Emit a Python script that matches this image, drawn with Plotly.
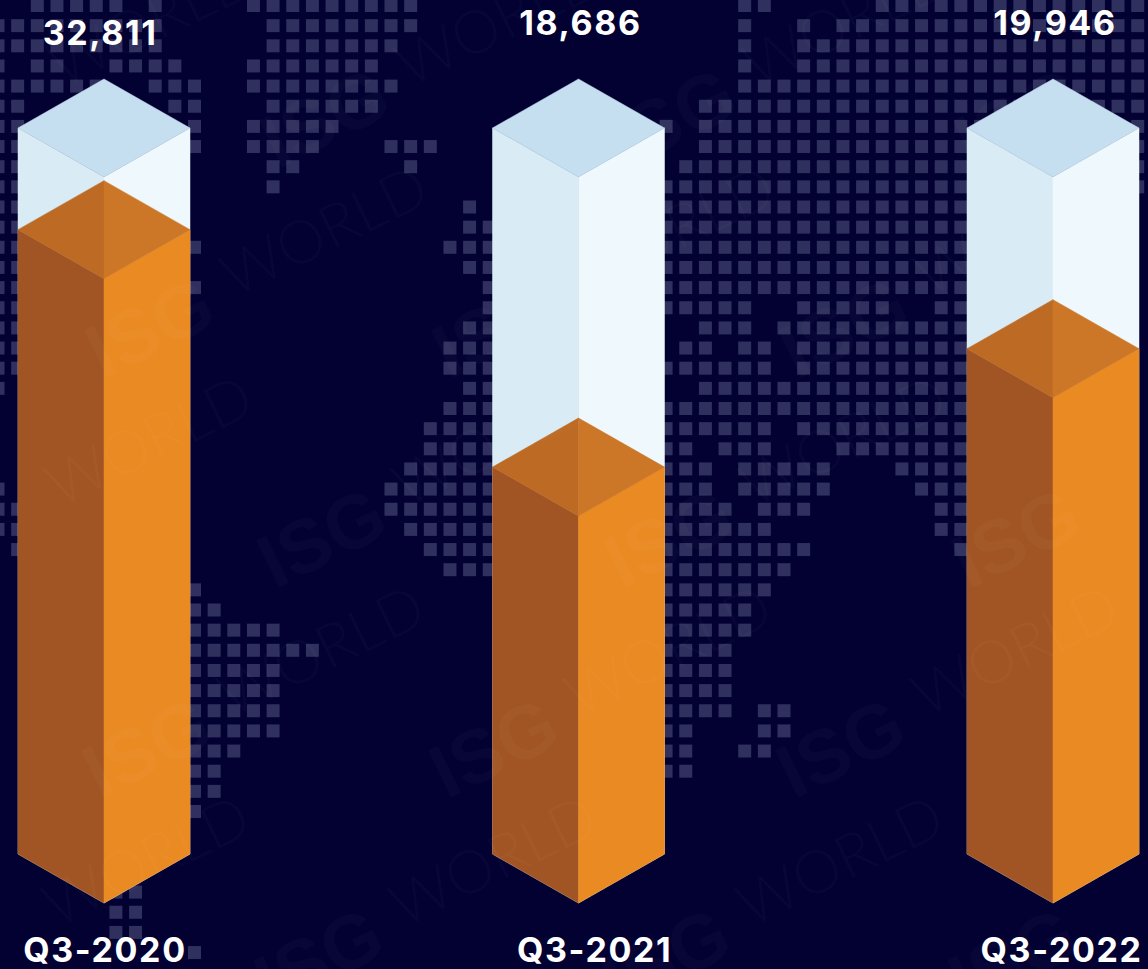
import plotly.graph_objects as go

# ---------- data ----------
quarters = ["Q3-2020", "Q3-2021", "Q3-2022"]
totals = [32811, 18686, 19946]
fill_pct = [86.0, 53.3, 69.6]

# world-map dot grid: row -> occupied grid columns
map_rows = {
    0: "2-6 8 13-21 38-39 45-58",
    1: "0-8 14-21 38 41 43-58",
    2: "0-8 14-20 38 41-58",
    3: "0 2-3 6-9 13-19 38 41-58",
    4: "0-5 8-10 13-20 38-58",
    5: "0-1 9-10 14-19 36-58",
    6: "0-1 10 13-17 34 36-58",
    7: "0-1 10 13-16 20-22 36-58",
    8: "0-1 14-15 21 35-58",
    9: "0-1 14 34-58",
    10: "0-1 24 34-49",
    11: "0-1 24-25 34-49",
    12: "0-1 10 23-25 34-49",
    13: "0-1 24-25 34-49",
    14: "0-1 10 25 34-49",
    15: "0-1 25 34-38 41-45 48-49",
    16: "0-1 24-25 36-38 40-49",
    17: "0-1 23-25 35-36 38-39 41-49",
    18: "0-1 23-25 34-39 41-49",
    19: "0 24-25 36-49",
    20: "23-25 34-49",
    21: "22-25 34-39 41-49",
    22: "22-25 34-35 37-39 43-49",
    23: "21-25 34-36 38-42 46-49",
    24: "0 20-25 34-36 38-42 47-49",
    25: "0-1 20-25 34-37 39-41 48-49",
    26: "0-1 21-25 34-39 48-49",
    27: "1 22-25 34-41 49",
    28: "23-25 34-40",
    29: "10 34-39",
    30: "10-11 34-38",
    31: "10-14 34-38",
    32: "10-16 34-37",
    33: "10-14 34-37",
    34: "10-14 34-37",
    35: "10-14 34-37 39-40",
    36: "10-14 34-35 39-40",
    37: "10-12 34-35 38-39",
    38: "10-11 34-35",
    39: "10-11",
    40: "10",
    44: "6-7",
    45: "6-7",
    46: "6-7",
    47: "10",
}

# ---------- styles and layout constants ----------
W, H = 1148, 969
BG = "#020132"
DOT = "#30305e"
WHITE_L, WHITE_R, WHITE_TOP = "#d9ecf6", "#eff9fd", "#c5dff0"
OR_L, OR_R, OR_TL, OR_TR = "#a25524", "#ea8a22", "#bd6a24", "#cc7727"

PX_PER_PCT = 7.26          # plot pixels for one percent of column height
PX_PER_COL = 474.5         # pixels between columns
BASE_PX, FIRST_COL_PX = 903, 104
HALF_W = 86 / PX_PER_COL   # half width of a column, in column units
RISE = 49 / PX_PER_PCT     # isometric rise of an edge, in percent units


def parse(spec):
    cols = []
    for part in spec.split():
        a, _, b = part.partition("-")
        cols.extend(range(int(a), int(b or a) + 1))
    return cols


dot_x, dot_y = [], []
for row, spec in map_rows.items():
    for col in parse(spec):
        dot_x.append(19.65 * col - 2)
        dot_y.append(5.5 + 20.15 * row)

fig = go.Figure()
fig.add_trace(go.Scatter(
    x=dot_x, y=dot_y, mode="markers", xaxis="x", yaxis="y", hoverinfo="skip",
    marker=dict(symbol="square", size=13, color=DOT, line=dict(width=0)),
))


def poly(xs, ys, color):
    fig.add_trace(go.Scatter(
        x=xs + xs[:1], y=ys + ys[:1], mode="lines", fill="toself", fillcolor=color,
        line=dict(width=0.5, color=color), xaxis="x2", yaxis="y2", hoverinfo="skip",
    ))


def column_part(c, top, left, right, cap_l, cap_r):
    w, r = HALF_W, RISE
    poly([c - w, c, c, c - w], [r, 0, top, top + r], left)
    poly([c, c + w, c + w, c], [0, r, top + r, top], right)
    if cap_l == cap_r:
        poly([c - w, c, c + w, c], [top + r, top + 2 * r, top + r, top], cap_l)
    else:
        poly([c - w, c, c], [top + r, top + 2 * r, top], cap_l)
        poly([c, c + w, c], [top + 2 * r, top + r, top], cap_r)


for i, pct in enumerate(fill_pct):
    column_part(i, 100, WHITE_L, WHITE_R, WHITE_TOP, WHITE_TOP)
    column_part(i, pct, OR_L, OR_R, OR_TL, OR_TR)

# text labels
total_shift = [-0.008, 0.004, 0.004]
total_y = [119.4, 120.8, 120.8]
cat_shift = [0.002, 0.034, 0.018]
cat_y = -7.0
font = dict(family="Inter, Lato, sans-serif", size=34, color="#ffffff", weight=700)
fig.add_trace(go.Scatter(
    x=[i + s for i, s in enumerate(total_shift)], y=total_y,
    text=[f"{v:,}" for v in totals], mode="text", textposition="middle center",
    textfont=font, xaxis="x2", yaxis="y2", hoverinfo="skip",
))
fig.add_trace(go.Scatter(
    x=[i + s for i, s in enumerate(cat_shift)], y=[cat_y] * 3,
    text=quarters, mode="text", textposition="middle center",
    textfont=font, xaxis="x2", yaxis="y2", hoverinfo="skip",
))

# faint repeating watermark
annotations = []
mark = "rgba(255,255,255,0.025)"
for m in range(-1, 4):
    for n in range(-2, 4):
        px = 149 + 172 * m + 347 * n
        py = 327 + 210 * m
        if -100 < px < W + 60 and -40 < py < H + 40:
            annotations.append(dict(
                x=px, y=py, xref="x", yref="y", text="<b>ISG</b>", showarrow=False, textangle=-26,
                font=dict(family="Liberation Sans", size=76, color=mark),
            ))
        if 0 < px + 174 < W and 0 < py - 98 < H:
            annotations.append(dict(
                x=px + 174, y=py - 98, xref="x", yref="y", text="WORLD", showarrow=False, textangle=-26,
                font=dict(family="Lato", size=60, color=mark, weight=300),
            ))

hidden = dict(visible=False, showgrid=False, zeroline=False, fixedrange=True)
fig.update_layout(
    width=W, height=H, margin=dict(l=0, r=0, t=0, b=0),
    paper_bgcolor=BG, plot_bgcolor=BG, showlegend=False,
    xaxis=dict(range=[0, W], domain=[0, 1], **hidden),
    yaxis=dict(range=[H, 0], domain=[0, 1], **hidden),
    xaxis2=dict(range=[-FIRST_COL_PX / PX_PER_COL, (W - FIRST_COL_PX) / PX_PER_COL],
                overlaying="x", **hidden),
    yaxis2=dict(range=[(BASE_PX - H) / PX_PER_PCT, BASE_PX / PX_PER_PCT],
                overlaying="y", **hidden),
    annotations=annotations,
)

fig.write_html(
    "out.html", config=dict(displayModeBar=False),
    post_script=(
        "document.body.style.margin='0';document.body.style.background='%s';"
        "document.body.style.overflow='hidden';"
        "document.querySelectorAll('.textpoint text').forEach(function(t){t.style.letterSpacing='1.6px';});" % BG
    ),
)
